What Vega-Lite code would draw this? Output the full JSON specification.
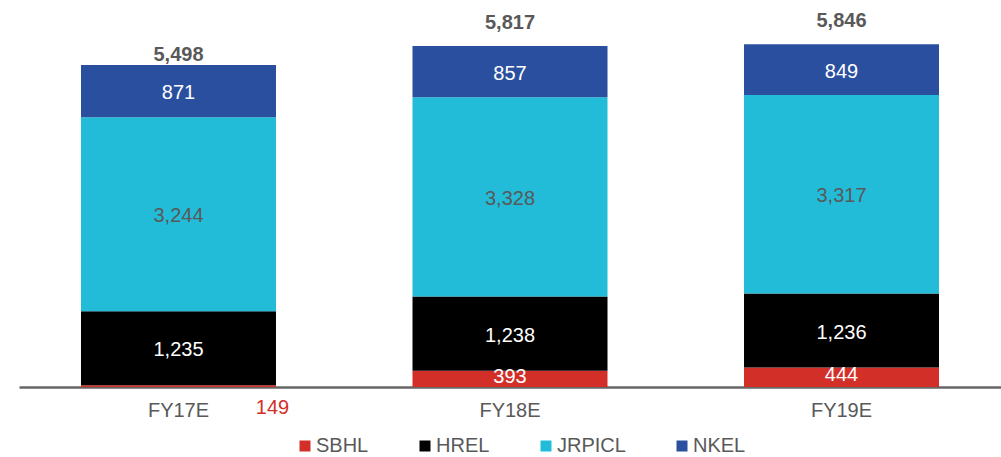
{
  "$schema": "https://vega.github.io/schema/vega-lite/v6.json",
  "width": 982,
  "height": 352,
  "autosize": {"type": "none"},
  "padding": {"left": 19, "top": 35, "right": 0, "bottom": 70},
  "background": "white",
  "config": {
    "view": {"stroke": null},
    "font": "Liberation Sans",
    "text": {"font": "Liberation Sans"}
  },
  "datasets": {
    "segments": [
      {"fy": "FY17E", "entity": "SBHL", "ord": 1, "value": 149},
      {"fy": "FY17E", "entity": "HREL", "ord": 2, "value": 1235},
      {"fy": "FY17E", "entity": "JRPICL", "ord": 3, "value": 3244},
      {"fy": "FY17E", "entity": "NKEL", "ord": 4, "value": 871},
      {"fy": "FY18E", "entity": "SBHL", "ord": 1, "value": 393},
      {"fy": "FY18E", "entity": "HREL", "ord": 2, "value": 1238},
      {"fy": "FY18E", "entity": "JRPICL", "ord": 3, "value": 3328},
      {"fy": "FY18E", "entity": "NKEL", "ord": 4, "value": 857},
      {"fy": "FY19E", "entity": "SBHL", "ord": 1, "value": 444},
      {"fy": "FY19E", "entity": "HREL", "ord": 2, "value": 1236},
      {"fy": "FY19E", "entity": "JRPICL", "ord": 3, "value": 3317},
      {"fy": "FY19E", "entity": "NKEL", "ord": 4, "value": 849}
    ],
    "totals": [
      {"fy": "FY17E", "total": 5498},
      {"fy": "FY18E", "total": 5817},
      {"fy": "FY19E", "total": 5846}
    ]
  },
  "data": {"name": "segments"},
  "encoding": {
    "x": {
      "field": "fy",
      "type": "nominal",
      "sort": ["FY17E", "FY18E", "FY19E"],
      "scale": {"domain": ["FY17E", "FY18E", "FY19E"], "paddingInner": 0.4118, "paddingOuter": 0.187},
      "axis": {
        "title": null,
        "labelAngle": 0,
        "ticks": false,
        "domainColor": "#666666",
        "domainWidth": 2.5,
        "labelColor": "#595959",
        "labelFont": "Liberation Sans",
        "labelFontSize": 20,
        "labelPadding": 13,
        "grid": false
      }
    }
  },
  "layer": [
    {
      "mark": {"type": "bar", "clip": true, "width": 195},
      "encoding": {
        "y": {
          "field": "value",
          "type": "quantitative",
          "aggregate": "sum",
          "stack": "zero",
          "scale": {"domain": [120, 6000], "nice": false, "zero": false},
          "axis": null
        },
        "order": {"field": "ord", "type": "quantitative"},
        "color": {
          "field": "entity",
          "type": "nominal",
          "scale": {
            "domain": ["SBHL", "HREL", "JRPICL", "NKEL"],
            "range": ["#D32F29", "#000000", "#22BCD9", "#2A4F9F"]
          },
          "legend": {
            "title": null,
            "orient": "none",
            "direction": "horizontal",
            "legendX": 276,
            "legendY": 401,
            "symbolType": "square",
            "symbolSize": 121,
            "symbolStrokeWidth": 0,
            "labelFont": "Liberation Sans",
            "labelFontSize": 20,
            "labelColor": "#595959",
            "labelOffset": 1,
            "columnPadding": 46,
            "padding": 0
          }
        }
      }
    },
    {
      "transform": [
        {"stack": "value", "groupby": ["fy"], "sort": [{"field": "ord"}], "as": ["v0", "v1"]},
        {"calculate": "(max(datum.v0, 120) + datum.v1) / 2", "as": "mid"},
        {"filter": "datum.entity !== 'SBHL'"}
      ],
      "mark": {"type": "text", "fontSize": 20, "font": "Liberation Sans", "baseline": "middle", "dy": 2},
      "encoding": {
        "y": {"field": "mid", "type": "quantitative", "scale": {"domain": [120, 6000], "nice": false, "zero": false}},
        "text": {"field": "value", "type": "quantitative", "format": ","},
        "color": {
          "condition": {"test": "datum.entity === 'JRPICL'", "value": "#595959"},
          "value": "#FFFFFF"
        }
      }
    },
    {
      "transform": [
        {"stack": "value", "groupby": ["fy"], "sort": [{"field": "ord"}], "as": ["v0", "v1"]},
        {"calculate": "(max(datum.v0, 120) + datum.v1) / 2", "as": "mid"},
        {"filter": "datum.entity === 'SBHL' && datum.fy !== 'FY17E'"}
      ],
      "mark": {"type": "text", "fontSize": 20, "font": "Liberation Sans", "baseline": "middle", "dy": -2, "color": "#FFFFFF"},
      "encoding": {
        "y": {"field": "mid", "type": "quantitative", "scale": {"domain": [120, 6000], "nice": false, "zero": false}},
        "text": {"field": "value", "type": "quantitative", "format": ","}
      }
    },
    {
      "transform": [
        {"filter": "datum.fy === 'FY17E' && datum.entity === 'SBHL'"}
      ],
      "mark": {"type": "text", "fontSize": 20, "font": "Liberation Sans", "baseline": "middle", "dx": 94, "dy": 21, "color": "#D32F29"},
      "encoding": {
        "y": {"datum": 120, "type": "quantitative", "scale": {"domain": [120, 6000], "nice": false, "zero": false}},
        "text": {"field": "value", "type": "quantitative", "format": ","}
      }
    },
    {
      "data": {"name": "totals"},
      "transform": [{"filter": "datum.fy === 'FY17E'"}],
      "mark": {"type": "text", "fontSize": 20, "fontWeight": "bold", "font": "Liberation Sans", "baseline": "middle", "dy": -10, "color": "#595959"},
      "encoding": {
        "y": {"field": "total", "type": "quantitative", "scale": {"domain": [120, 6000], "nice": false, "zero": false}},
        "text": {"field": "total", "type": "quantitative", "format": ","}
      }
    },
    {
      "data": {"name": "totals"},
      "transform": [{"filter": "datum.fy !== 'FY17E'"}],
      "mark": {"type": "text", "fontSize": 20, "fontWeight": "bold", "font": "Liberation Sans", "baseline": "middle", "dy": -23, "color": "#595959"},
      "encoding": {
        "y": {"field": "total", "type": "quantitative", "scale": {"domain": [120, 6000], "nice": false, "zero": false}},
        "text": {"field": "total", "type": "quantitative", "format": ","}
      }
    }
  ]
}
